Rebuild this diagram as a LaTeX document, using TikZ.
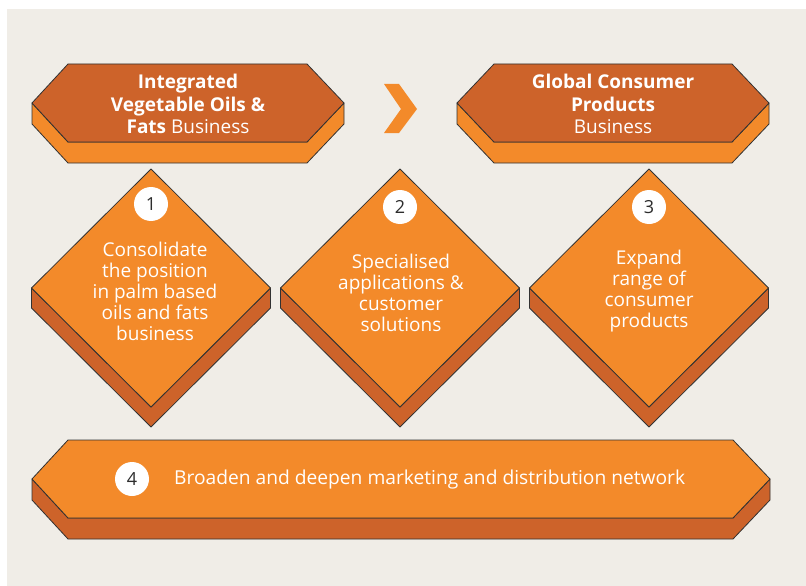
\documentclass[tikz,border=0pt]{standalone}
\usepackage{fontspec}
\setmainfont{Open Sans}
\definecolor{bgBeige}{RGB}{240,237,231}
\definecolor{darkOrange}{RGB}{205,99,42}
\definecolor{lightOrange}{RGB}{243,138,42}
\definecolor{lineGray}{RGB}{50,50,50}
\definecolor{numGray}{RGB}{45,45,45}
\begin{document}
\begin{tikzpicture}[x=1pt,y=-1pt,
  outline/.style={draw=lineGray, line width=0.8pt, line join=round},
  darkface/.style={outline, fill=darkOrange},
  lightface/.style={outline, fill=lightOrange},
  numdisc/.style={circle, fill=white, minimum size=34pt, inner sep=0pt,
    text=numGray, font=\fontsize{18}{20}\selectfont},
  bodytext/.style={text=white, align=center, font=\fontsize{19}{21}\selectfont},
  headtext/.style={text=white, align=center, font=\fontsize{19}{22.5}\selectfont},
]
\useasboundingbox (0,0) rectangle (806,586);
\fill[bgBeige] (7,9) rectangle (806,586);

% --- top slab: Integrated Vegetable Oils & Fats Business
\path[lightface] (32,103) -- (68,142) -- (307,142) -- (344,103) -- (344,124)
  -- (307,163) -- (68,163) -- (32,124) -- cycle;
\path[darkface] (68,64) -- (307,64) -- (344,103) -- (307,142) -- (68,142)
  -- (32,103) -- cycle;
\node[headtext] (h1) at (188,104) {\textbf{Integrated}\\\textbf{Vegetable Oils \&}\\\textbf{Fats} Business};

% --- chevron between the two business slabs
\fill[lightOrange] (384,84) -- (399,84) -- (417,109) -- (399,133) -- (384,133)
  -- (401,109) -- cycle;

% --- top slab: Global Consumer Products Business
\path[lightface] (457,103) -- (494,142) -- (732,142) -- (769,103) -- (769,124)
  -- (732,163) -- (494,163) -- (457,124) -- cycle;
\path[darkface] (494,64) -- (732,64) -- (769,103) -- (732,142) -- (494,142)
  -- (457,103) -- cycle;
\node[headtext] (h2) at (613,104) {\textbf{Global Consumer}\\\textbf{Products}\\Business};

% --- diamonds 1-3
\foreach \cx in {151, 400, 649}{
  \path[darkface] (\cx-119.5,288) -- (\cx,407) -- (\cx+119.5,288) -- (\cx+119.5,308)
    -- (\cx,427) -- (\cx-119.5,308) -- cycle;
  \path[lightface] (\cx,169) -- (\cx+119.5,288) -- (\cx,407) -- (\cx-119.5,288) -- cycle;
}
\node[numdisc] (n1) at (151,204) {1};
\node[numdisc] (n2) at (400,207) {2};
\node[numdisc] (n3) at (649,207) {3};
\node[bodytext] (t1) at (155,291) {Consolidate\\the position\\in palm based\\oils and fats\\business};
\node[bodytext] (t2) at (401,293) {Specialised\\applications \&\\customer\\solutions};
\node[bodytext] (t3) at (649,291) {Expand\\range of\\consumer\\products};

% --- bottom slab
\path[darkface] (32,479) -- (68,518) -- (733,518) -- (770,479) -- (770,500)
  -- (733,539) -- (68,539) -- (32,500) -- cycle;
\path[lightface] (68,440) -- (733,440) -- (770,479) -- (733,518) -- (68,518)
  -- (32,479) -- cycle;
\node[numdisc] (n4) at (132,479) {4};
\node[text=white, anchor=west, inner sep=0pt, font=\fontsize{19.2}{21}\selectfont] (t4)
  at (174,480) {Broaden and deepen marketing and distribution network};
\end{tikzpicture}
\end{document}
